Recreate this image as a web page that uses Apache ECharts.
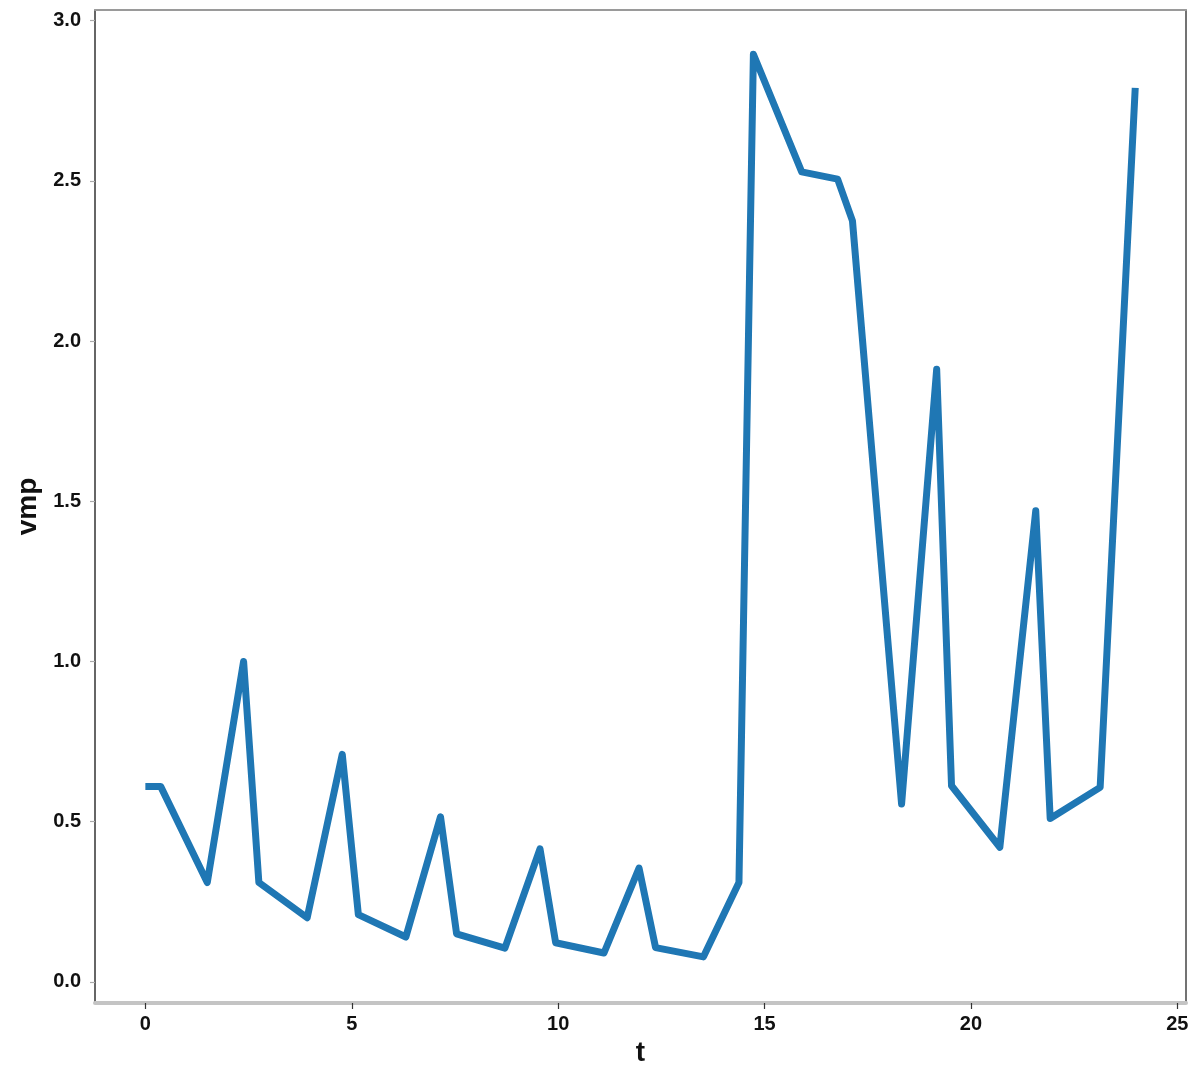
<!DOCTYPE html>
<html>
<head>
<meta charset="utf-8">
<script src="https://cdn.jsdelivr.net/npm/echarts@6/dist/echarts.min.js"></script>
<style>html,body{margin:0;padding:0;background:#fff}#c{width:1200px;height:1081px}</style>
</head>
<body>
<div id="c"></div>
<script>
const tValues = [0, 0.37, 1.5, 2.38, 2.75, 3.92, 4.77, 5.16, 6.31, 7.15, 7.54, 8.71, 9.56, 9.94, 11.11, 11.96, 12.36, 13.52, 14.38, 14.73, 15.9, 16.77, 17.13, 18.32, 19.17, 19.53, 20.7, 21.57, 21.92, 23.13, 23.98];
const vmpValues = [0.61, 0.61, 0.31, 1.0, 0.31, 0.20, 0.71, 0.21, 0.14, 0.515, 0.15, 0.105, 0.415, 0.122, 0.09, 0.355, 0.107, 0.078, 0.31, 2.895, 2.528, 2.505, 2.375, 0.555, 1.912, 0.612, 0.42, 1.47, 0.51, 0.607, 2.79];
const xTicks = [0, 5, 10, 15, 20, 25];
const yTicks = [0, 0.5, 1.0, 1.5, 2.0, 2.5, 3.0];
const xName = 't';
const yName = 'vmp';

const chart = echarts.init(document.getElementById('c'), null, {renderer: 'canvas'});
const FONT = 'Liberation Sans, Arial, sans-serif';
const xMin = -1.22, xMax = 25.21, yMin = -0.066, yMax = 3.033;

chart.setOption({
  animation: false,
  backgroundColor: '#fff',
  grid: {left: 95, right: 14, top: 10, bottom: 78, containLabel: false},
  xAxis: [{
    type: 'value', min: xMin, max: xMax, position: 'bottom',
    name: xName, nameLocation: 'middle', nameGap: 34,
    nameTextStyle: {fontFamily: FONT, fontWeight: 'bold', fontSize: 28, color: '#111'},
    axisLine: {show: true, onZero: false, lineStyle: {color: '#c4c4c4', width: 4}},
    axisTick: {show: true, length: 6, customValues: xTicks, lineStyle: {color: '#333', width: 1.2}},
    axisLabel: {show: true, customValues: xTicks, margin: 11, fontFamily: FONT, fontWeight: 'bold', fontSize: 20, color: '#111', formatter: v => String(Math.round(v))},
    splitLine: {show: false}
  }, {
    type: 'value', min: xMin, max: xMax, position: 'top',
    axisLine: {show: true, onZero: false, lineStyle: {color: '#9a9a9a', width: 2}},
    axisTick: {show: false}, axisLabel: {show: false}, splitLine: {show: false}
  }],
  yAxis: [{
    type: 'value', min: yMin, max: yMax, position: 'left',
    name: yName, nameLocation: 'middle', nameGap: 52, nameRotate: 90,
    nameTextStyle: {fontFamily: FONT, fontWeight: 'bold', fontSize: 28, color: '#111'},
    axisLine: {show: true, onZero: false, lineStyle: {color: '#333', width: 1.5}},
    axisTick: {show: true, length: 5, customValues: yTicks, lineStyle: {color: '#aaa', width: 1.2}},
    axisLabel: {show: true, customValues: yTicks, margin: 14, fontFamily: FONT, fontWeight: 'bold', fontSize: 20, color: '#111', formatter: v => v.toFixed(1)},
    splitLine: {show: false}
  }, {
    type: 'value', min: yMin, max: yMax, position: 'right',
    axisLine: {show: true, onZero: false, lineStyle: {color: '#444', width: 1.5}},
    axisTick: {show: false}, axisLabel: {show: false}, splitLine: {show: false}
  }],
  series: [{
    type: 'line',
    xAxisIndex: 0, yAxisIndex: 0,
    data: tValues.map((t, i) => [t, vmpValues[i]]),
    showSymbol: false, symbol: 'none',
    lineStyle: {color: '#1f77b4', width: 7, cap: 'butt', join: 'round'},
    itemStyle: {color: '#1f77b4'}
  }]
});
</script>
</body>
</html>
